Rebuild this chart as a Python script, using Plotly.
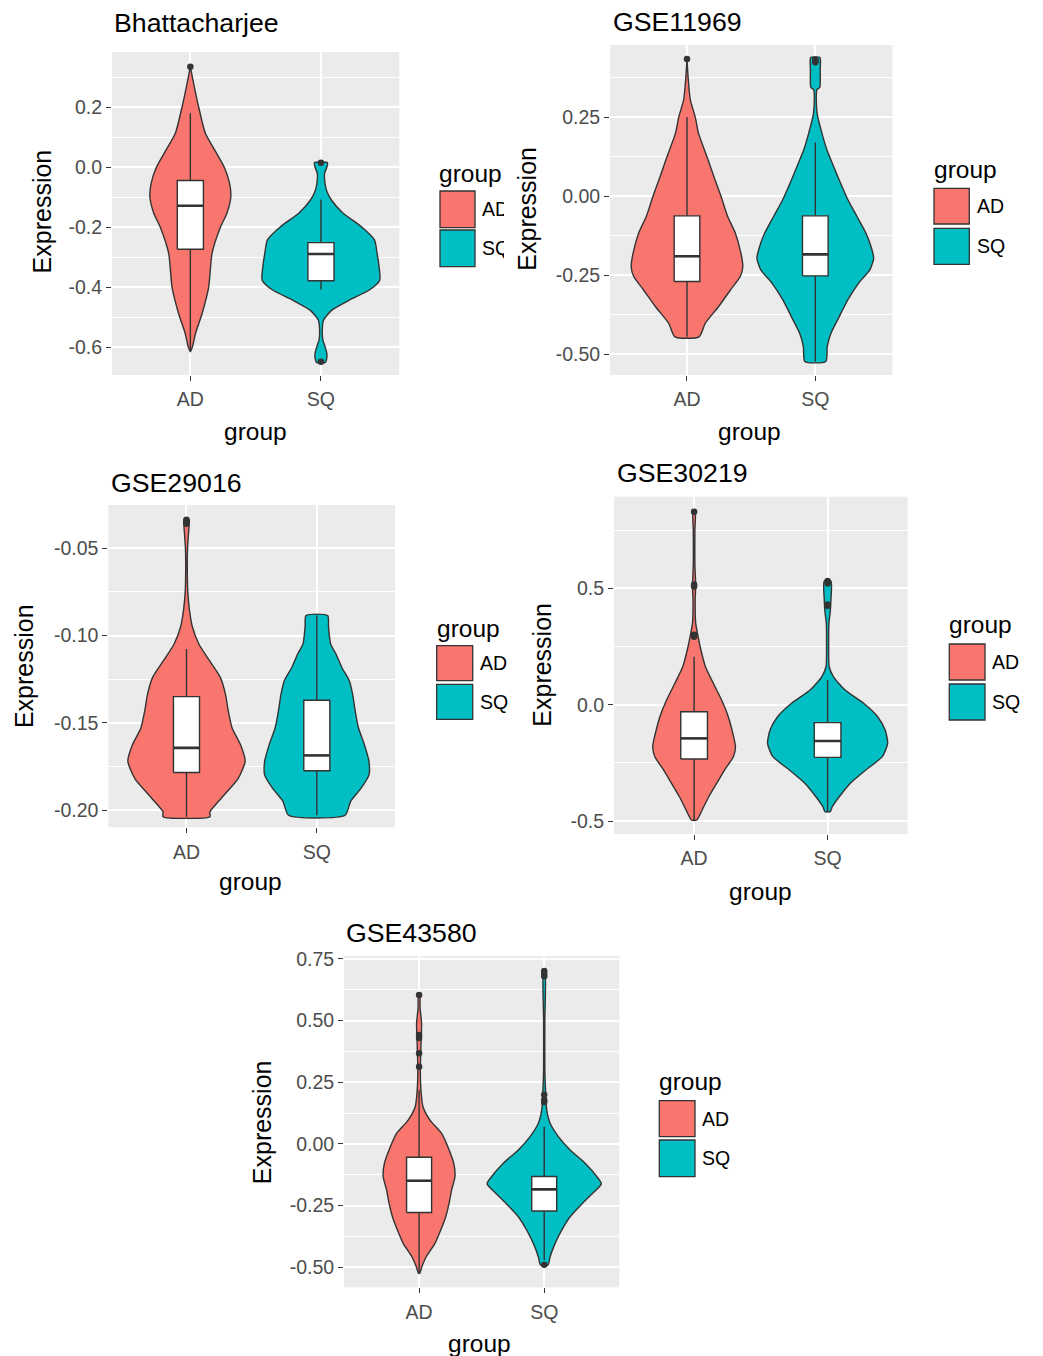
import plotly.graph_objects as go

W, H = 1043, 1356
FONT = "Liberation Sans"
FILL = {"AD": "#F8766D", "SQ": "#00BFC4"}
OUTLINE = "#333333"
GROUPS = ["AD", "SQ"]

# ---- data: violin outlines (expression level -> half width on the category axis) ----
bh_ad_y = [-0.615, -0.600, -0.553, -0.487, -0.400, -0.287, -0.200, -0.153, -0.098, -0.053, 0.000, 0.047, 0.113, 0.200, 0.269, 0.335]
bh_ad_w = [0.000, 0.015, 0.040, 0.090, 0.140, 0.166, 0.230, 0.280, 0.310, 0.300, 0.260, 0.200, 0.115, 0.064, 0.030, 0.000]
bh_sq_y = [-0.650, -0.635, -0.620, -0.595, -0.576, -0.553, -0.509, -0.476, -0.442, -0.409, -0.376, -0.331, -0.287, -0.242, -0.198, -0.153, -0.109, -0.080, -0.050, -0.020, 0.000, 0.015]
bh_sq_w = [0.035, 0.045, 0.045, 0.030, 0.015, 0.010, 0.020, 0.083, 0.220, 0.370, 0.450, 0.445, 0.430, 0.410, 0.310, 0.170, 0.080, 0.045, 0.030, 0.028, 0.045, 0.050]

g11_ad_y = [-0.445, -0.402, -0.349, -0.296, -0.254, -0.223, -0.180, -0.117, -0.064, 0.000, 0.062, 0.125, 0.199, 0.250, 0.305, 0.370, 0.435]
g11_ad_w = [0.094, 0.143, 0.247, 0.340, 0.415, 0.435, 0.420, 0.377, 0.317, 0.265, 0.210, 0.156, 0.090, 0.065, 0.026, 0.010, 0.000]
g11_sq_y = [-0.523, -0.476, -0.434, -0.381, -0.328, -0.275, -0.233, -0.196, -0.159, -0.117, -0.064, -0.012, 0.041, 0.094, 0.147, 0.199, 0.260, 0.300, 0.337, 0.345, 0.400, 0.430, 0.440]
g11_sq_w = [0.082, 0.093, 0.122, 0.187, 0.253, 0.338, 0.425, 0.455, 0.434, 0.395, 0.325, 0.255, 0.197, 0.143, 0.090, 0.052, 0.015, 0.008, 0.012, 0.035, 0.038, 0.040, 0.035]

g29_ad_y = [-0.2038, -0.201, -0.191, -0.182, -0.172, -0.1625, -0.153, -0.143, -0.134, -0.124, -0.114, -0.105, -0.095, -0.0856, -0.075, -0.060, -0.050, -0.042, -0.037, -0.0337]
g29_ad_w = [0.180, 0.180, 0.294, 0.396, 0.450, 0.414, 0.350, 0.320, 0.300, 0.260, 0.173, 0.096, 0.045, 0.023, 0.010, 0.006, 0.008, 0.015, 0.020, 0.020]
g29_sq_y = [-0.203, -0.195, -0.1875, -0.180, -0.172, -0.1625, -0.153, -0.143, -0.1337, -0.126, -0.118, -0.1106, -0.1048, -0.0952, -0.0885]
g29_sq_w = [0.217, 0.260, 0.340, 0.400, 0.400, 0.365, 0.320, 0.294, 0.275, 0.250, 0.190, 0.147, 0.106, 0.090, 0.083]

g30_ad_y = [-0.495, -0.452, -0.395, -0.338, -0.280, -0.223, -0.180, -0.123, -0.0515, 0.020, 0.092, 0.163, 0.235, 0.292, 0.350, 0.450, 0.510, 0.600, 0.750, 0.828]
g30_ad_w = [0.020, 0.060, 0.110, 0.169, 0.229, 0.294, 0.310, 0.290, 0.256, 0.206, 0.144, 0.085, 0.051, 0.030, 0.012, 0.008, 0.012, 0.006, 0.006, 0.008]
g30_sq_y = [-0.459, -0.438, -0.395, -0.338, -0.280, -0.223, -0.166, -0.109, -0.0515, 0.006, 0.063, 0.120, 0.163, 0.250, 0.350, 0.400, 0.450, 0.531]
g30_sq_w = [0.020, 0.035, 0.0875, 0.169, 0.287, 0.410, 0.450, 0.431, 0.375, 0.270, 0.131, 0.044, 0.012, 0.008, 0.010, 0.020, 0.025, 0.025]

g43_ad_y = [-0.524, -0.497, -0.457, -0.403, -0.349, -0.295, -0.240, -0.186, -0.132, -0.078, -0.024, 0.043, 0.097, 0.151, 0.219, 0.300, 0.400, 0.489, 0.550, 0.604]
g43_ad_w = [0.005, 0.023, 0.057, 0.127, 0.173, 0.213, 0.240, 0.260, 0.287, 0.277, 0.240, 0.180, 0.087, 0.031, 0.015, 0.010, 0.015, 0.020, 0.008, 0.005]
g43_sq_y = [-0.490, -0.457, -0.403, -0.349, -0.295, -0.240, -0.200, -0.162, -0.132, -0.078, -0.024, 0.030, 0.084, 0.138, 0.200, 0.300, 0.500, 0.701]
g43_sq_w = [0.030, 0.047, 0.087, 0.140, 0.207, 0.307, 0.387, 0.457, 0.420, 0.327, 0.207, 0.113, 0.047, 0.020, 0.012, 0.005, 0.005, 0.006]

# ---- data: box statistics [lower whisker, Q1, median, Q3, upper whisker] and outliers ----
bh_ad_box = [-0.610, -0.273, -0.128, -0.044, 0.180]
bh_sq_box = [-0.407, -0.378, -0.289, -0.251, -0.107]
g11_ad_box = [-0.445, -0.270, -0.190, -0.062, 0.250]
g11_sq_box = [-0.523, -0.252, -0.184, -0.062, 0.170]
g29_ad_box = [-0.2038, -0.1785, -0.1644, -0.135, -0.1077]
g29_sq_box = [-0.203, -0.1775, -0.1687, -0.1371, -0.0885]
g30_ad_box = [-0.495, -0.233, -0.1445, -0.030, 0.206]
g30_sq_box = [-0.459, -0.226, -0.156, -0.077, 0.106]
g43_ad_box = [-0.524, -0.278, -0.149, -0.054, 0.219]
g43_sq_box = [-0.470, -0.272, -0.184, -0.132, 0.070]

bh_ad_out = [0.335]
bh_sq_out = [0.015, -0.648]
g11_ad_out = [0.435]
g11_sq_out = [0.432, 0.428, 0.424]
g29_ad_out = [-0.0337, -0.0345, -0.036]
g29_sq_out = []
g30_ad_out = [0.828, 0.516, 0.508, 0.300, 0.292]
g30_sq_out = [0.531, 0.520, 0.430, 0.425]
g43_ad_out = [0.604, 0.442, 0.430, 0.368, 0.313]
g43_sq_out = [0.701, 0.690, 0.680, 0.200, 0.178, 0.170, -0.490]

# ---- data: titles and axis ticks ----
titles = ["Bhattacharjee", "GSE11969", "GSE29016", "GSE30219", "GSE43580"]
bh_ticks = [0.2, 0.0, -0.2, -0.4, -0.6]
bh_ticktext = ["0.2", "0.0", "-0.2", "-0.4", "-0.6"]
g11_ticks = [0.25, 0.0, -0.25, -0.5]
g11_ticktext = ["0.25", "0.00", "-0.25", "-0.50"]
g29_ticks = [-0.05, -0.10, -0.15, -0.20]
g29_ticktext = ["-0.05", "-0.10", "-0.15", "-0.20"]
g30_ticks = [0.5, 0.0, -0.5]
g30_ticktext = ["0.5", "0.0", "-0.5"]
g43_ticks = [0.75, 0.5, 0.25, 0.0, -0.25, -0.5]
g43_ticktext = ["0.75", "0.50", "0.25", "0.00", "-0.25", "-0.50"]

panels = [
    dict(ad=(bh_ad_y, bh_ad_w, bh_ad_box, bh_ad_out), sq=(bh_sq_y, bh_sq_w, bh_sq_box, bh_sq_out),
         ticks=bh_ticks, ticktext=bh_ticktext, minor=[0.3, 0.1, -0.1, -0.3, -0.5], yrange=[-0.692, 0.384]),
    dict(ad=(g11_ad_y, g11_ad_w, g11_ad_box, g11_ad_out), sq=(g11_sq_y, g11_sq_w, g11_sq_box, g11_sq_out),
         ticks=g11_ticks, ticktext=g11_ticktext, minor=[0.375, 0.125, -0.125, -0.375], yrange=[-0.566, 0.479]),
    dict(ad=(g29_ad_y, g29_ad_w, g29_ad_box, g29_ad_out), sq=(g29_sq_y, g29_sq_w, g29_sq_box, g29_sq_out),
         ticks=g29_ticks, ticktext=g29_ticktext, minor=[-0.075, -0.125, -0.175], yrange=[-0.2099, -0.0252]),
    dict(ad=(g30_ad_y, g30_ad_w, g30_ad_box, g30_ad_out), sq=(g30_sq_y, g30_sq_w, g30_sq_box, g30_sq_out),
         ticks=g30_ticks, ticktext=g30_ticktext, minor=[0.75, 0.25, -0.25], yrange=[-0.555, 0.893]),
    dict(ad=(g43_ad_y, g43_ad_w, g43_ad_box, g43_ad_out), sq=(g43_sq_y, g43_sq_w, g43_sq_box, g43_sq_out),
         ticks=g43_ticks, ticktext=g43_ticktext, minor=[0.625, 0.375, 0.125, -0.125, -0.375], yrange=[-0.581, 0.762]),
]

# ---- page geometry (pixels): panel boxes and the text around them ----
boxes = [(112, 52, 399.3, 375), (610, 45, 892.3, 375), (108.3, 505, 395, 827.3),
         (614, 496.7, 907.7, 834), (344, 956, 619.3, 1287.3)]
title_pos = [(112, 23), (611, 21.7), (109, 483.3), (615, 473.3), (344, 933.3)]
ytitle_pos = [(41.7, 211.7), (526.7, 209), (23.3, 665.8), (541.7, 665), (261.7, 1122.5)]
xtitle_pos = [(255, 431.7), (749.3, 431.7), (250, 881.7), (760, 891.7), (479.3, 1343.3)]
# legend: title (left, cy), key x0-x1, AD key y0-y1, SQ key y0-y1, label x, label clip width
legends = [
    dict(t=(437, 174), kx=(440, 475), ka=(191, 227.7), ks=(230, 266.7), lx=480, clip=22),
    dict(t=(932, 170), kx=(934, 969.3), ka=(188.3, 224), ks=(228.3, 264.3), lx=975, clip=None),
    dict(t=(435, 628.3), kx=(436.7, 472.7), ka=(645.7, 680.7), ks=(684.3, 719.3), lx=478.3, clip=None),
    dict(t=(946.7, 625), kx=(949.3, 985), ka=(644, 680), ks=(684, 720), lx=990, clip=None),
    dict(t=(657.3, 1081.7), kx=(659.3, 695), ka=(1100.7, 1136.7), ks=(1140, 1176.7), lx=700, clip=None),
]


def fx(p):
    return p / W


def fy(p):
    return 1 - p / H


BOX_HALF = 0.1
LINE_W = 1.4
fig = go.Figure()
annotations = []
shapes = []

for i, (panel, box) in enumerate(zip(panels, boxes), start=1):
    xa, ya = f"x{i}", f"y{i}"
    for pos, g in enumerate(GROUPS, start=1):
        vy, vw, stats, outs = panel[g.lower()]
        # violin outline: right side upward, left side downward
        xs = [pos + w for w in vw] + [pos - w for w in reversed(vw)] + [pos + vw[0]]
        ys = list(vy) + list(reversed(vy)) + [vy[0]]
        fig.add_trace(go.Scatter(x=xs, y=ys, xaxis=xa, yaxis=ya, mode="lines", fill="toself",
                                 fillcolor=FILL[g], line=dict(color=OUTLINE, width=LINE_W, shape="spline", smoothing=0.6),
                                 hoverinfo="skip", showlegend=False))
        lo, q1, med, q3, hi = stats
        # whiskers
        fig.add_trace(go.Scatter(x=[pos, pos, None, pos, pos], y=[lo, q1, None, q3, hi], xaxis=xa, yaxis=ya,
                                 mode="lines", line=dict(color=OUTLINE, width=LINE_W), hoverinfo="skip", showlegend=False))
        # box
        fig.add_trace(go.Scatter(x=[pos - BOX_HALF, pos + BOX_HALF, pos + BOX_HALF, pos - BOX_HALF, pos - BOX_HALF],
                                 y=[q1, q1, q3, q3, q1], xaxis=xa, yaxis=ya, mode="lines", fill="toself",
                                 fillcolor="white", line=dict(color=OUTLINE, width=LINE_W), hoverinfo="skip", showlegend=False))
        # median
        fig.add_trace(go.Scatter(x=[pos - BOX_HALF, pos + BOX_HALF], y=[med, med], xaxis=xa, yaxis=ya,
                                 mode="lines", line=dict(color=OUTLINE, width=2.6), hoverinfo="skip", showlegend=False))
        if outs:
            fig.add_trace(go.Scatter(x=[pos] * len(outs), y=outs, xaxis=xa, yaxis=ya, mode="markers",
                                     marker=dict(color=OUTLINE, size=6.5), hoverinfo="skip", showlegend=False))

    x0, y0, x1, y1 = box
    fig.layout[f"xaxis{i}"] = dict(
        domain=[fx(x0), fx(x1)], anchor=ya, range=[0.4, 2.6], tickmode="array", tickvals=[1, 2], ticktext=GROUPS,
        showgrid=True, gridcolor="white", gridwidth=1.8, zeroline=False, showline=False, automargin=False,
        ticks="outside", ticklen=5, tickwidth=1.2, tickcolor=OUTLINE, ticklabelstandoff=2,
        tickfont=dict(family=FONT, size=19.5, color="#4D4D4D"), fixedrange=True)
    fig.layout[f"yaxis{i}"] = dict(
        domain=[fy(y1), fy(y0)], anchor=xa, range=panel["yrange"], tickmode="array", tickvals=panel["ticks"],
        ticktext=panel["ticktext"], showgrid=True, gridcolor="white", gridwidth=1.8, zeroline=False, showline=False,
        automargin=False, ticks="outside", ticklen=5, tickwidth=1.2, tickcolor=OUTLINE,
        tickfont=dict(family=FONT, size=19.5, color="#4D4D4D"),
        minor=dict(tickmode="array", tickvals=panel["minor"], showgrid=True, gridcolor="white", gridwidth=0.9, ticks=""),
        fixedrange=True)

    tx, ty = title_pos[i - 1]
    annotations.append(dict(text=titles[i - 1], x=fx(tx), y=fy(ty), xref="paper", yref="paper", xanchor="left",
                            yanchor="middle", showarrow=False, font=dict(family=FONT, size=26.7, color="black")))
    yx, yy = ytitle_pos[i - 1]
    annotations.append(dict(text="Expression", x=fx(yx), y=fy(yy), xref="paper", yref="paper", xanchor="center",
                            yanchor="middle", textangle=-90, showarrow=False, font=dict(family=FONT, size=25, color="black")))
    gx, gy = xtitle_pos[i - 1]
    annotations.append(dict(text="group", x=fx(gx), y=fy(gy), xref="paper", yref="paper", xanchor="center",
                            yanchor="middle", showarrow=False, font=dict(family=FONT, size=24.5, color="black")))

    lg = legends[i - 1]
    annotations.append(dict(text="group", x=fx(lg["t"][0]), y=fy(lg["t"][1]), xref="paper", yref="paper",
                            xanchor="left", yanchor="middle", showarrow=False,
                            font=dict(family=FONT, size=24.5, color="black")))
    for g, (ky0, ky1) in zip(GROUPS, [lg["ka"], lg["ks"]]):
        shapes.append(dict(type="rect", xref="paper", yref="paper", x0=fx(lg["kx"][0]), x1=fx(lg["kx"][1]),
                           y0=fy(ky1), y1=fy(ky0), fillcolor=FILL[g], line=dict(color=OUTLINE, width=1.3)))
        lab = dict(text=g, x=fx(lg["lx"]), y=fy((ky0 + ky1) / 2), xref="paper", yref="paper", xanchor="left",
                   yanchor="middle", showarrow=False, align="left", font=dict(family=FONT, size=19.5, color="black"))
        if lg["clip"]:
            lab["width"] = lg["clip"]
        annotations.append(lab)

fig.update_layout(width=W, height=H, margin=dict(l=0, r=0, t=0, b=0, pad=0), paper_bgcolor="white",
                  plot_bgcolor="#EBEBEB", showlegend=False, annotations=annotations, shapes=shapes)

# the page body carries the browser's default margin; drop it so the figure sits at the page origin
fig.write_html("out.html", post_script="document.body.style.margin = '0';")
